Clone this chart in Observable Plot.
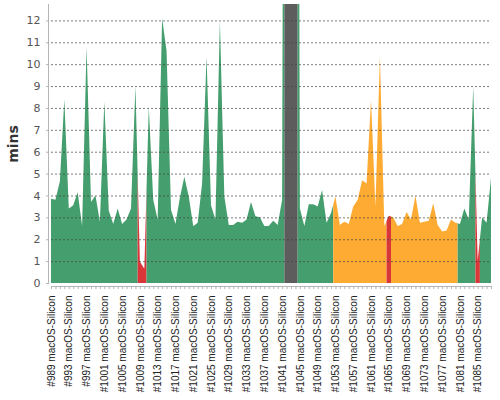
<!DOCTYPE html>
<html><head><meta charset="utf-8">
<script src="https://cdn.jsdelivr.net/npm/d3@7"></script>
<script src="https://cdn.jsdelivr.net/npm/@observablehq/plot@0.6"></script>
<style>body{margin:0;background:#fff} svg{display:block}</style>
</head><body><div id="chart"></div>
<script>
const builds = [
  989, 990, 991, 992, 993, 994, 995, 996, 997, 998,
  999, 1000, 1001, 1002, 1003, 1004, 1005, 1006, 1007, 1008,
  1009, 1010, 1011, 1012, 1013, 1014, 1015, 1016, 1017, 1018,
  1019, 1020, 1021, 1022, 1023, 1024, 1025, 1026, 1027, 1028,
  1029, 1030, 1031, 1032, 1033, 1034, 1035, 1036, 1037, 1038,
  1039, 1040, 1041, 1042, 1043, 1044, 1045, 1046, 1047, 1048,
  1049, 1050, 1051, 1052, 1053, 1054, 1055, 1056, 1057, 1058,
  1059, 1060, 1061, 1062, 1063, 1064, 1065, 1066, 1067, 1068,
  1069, 1070, 1071, 1072, 1073, 1074, 1075, 1076, 1077, 1078,
  1079, 1080, 1081, 1082, 1083, 1084, 1085, 1086, 1087, 1088
];
const durations = [
  3.85, 3.8, 4.65, 8.4, 3.4, 3.55, 4.15, 2.6, 10.8, 3.7,
  4.0, 2.8, 8.3, 3.3, 2.7, 3.4, 2.7, 2.9, 3.4, 9.0,
  0.97, 0.65, 8.05, 3.8, 2.9, 12.1, 10.6, 3.35, 2.7, 3.9,
  4.85, 3.95, 2.6, 2.75, 4.55, 10.35, 3.55, 2.9, 12.0, 3.95,
  2.65, 2.65, 2.8, 2.75, 2.9, 3.7, 3.05, 3.0, 2.6, 2.6,
  2.85, 2.65, 3.8, 80, 80, 80, 3.4, 2.6, 3.6, 3.6,
  3.5, 4.25, 2.75, 3.2, 3.95, 2.65, 2.8, 2.7, 3.5, 3.8,
  4.7, 4.55, 8.35, 3.5, 10.35, 2.6, 3.07, 3.0, 2.6, 2.7,
  3.25, 2.9, 4.0, 2.75, 2.8, 2.85, 3.65, 2.65, 2.35, 2.4,
  2.9, 2.75, 2.7, 3.4, 2.9, 9.0, 1.0, 3.0, 2.75, 4.8
];
const statuses = (
  "SSSSSSSSSS" +
  "SSSSSSSSSS" +
  "FFSSSSSSSS" +
  "SSSSSSSSSS" +
  "SSSSSSSSSS" +
  "SSSAAASSSS" +
  "SSSSUUUUUU" +
  "UUUUUUFUUU" +
  "UUUUUUUUUU" +
  "UUSSSSFSSS").split("");
const statusNames = {S: "success", F: "failure", U: "unstable", A: "aborted"};
const statusOrder = ["success", "failure", "unstable", "aborted"];
const statusColors = ["#459e6d", "#d9363a", "#fdab32", "#5d5d5d"];
const yTicks = [0, 1, 2, 3, 4, 5, 6, 7, 8, 9, 10, 11, 12];
const labelBuilds = builds.filter((b, i) => i % 4 === 0);
const labelSuffix = " macOS-Silicon";
const yLabel = ["mins"];

// Jenkins-style rendering: each build owns the span between the midpoints to its
// neighbours, coloured by its result; contiguous runs of one result form one area.
const pts = [];
let run = -1;
builds.forEach((b, i) => {
  const st = statusNames[statuses[i]];
  if (i === 0 || statuses[i] !== statuses[i - 1]) {
    run++;
    if (i > 0) pts.push({run, status: st, x: (builds[i - 1] + b) / 2, y: (durations[i - 1] + durations[i]) / 2});
  }
  pts.push({run, status: st, x: b, y: durations[i]});
  if (i < builds.length - 1) pts.push({run, status: st, x: (b + builds[i + 1]) / 2, y: (durations[i] + durations[i + 1]) / 2});
});

const chart = Plot.plot({
  width: 500, height: 400,
  marginLeft: 51, marginRight: 9, marginTop: 4, marginBottom: 117,
  x: {type: "linear", domain: [builds[0], builds[builds.length - 1]]},
  y: {domain: [0, 12.75]},
  color: {domain: statusOrder, range: statusColors},
  style: {fontFamily: "DejaVu Sans", background: "white"},
  marks: [
    Plot.area(pts, {x1: "x", y1: 0, y2: "y", z: "run", fill: "status", clip: true}),
    Plot.gridY(yTicks.slice(1), {stroke: "#444", strokeOpacity: 0.7, strokeDasharray: "2,2"}),
    Plot.frame({anchor: "left", dx: -3, stroke: "#b5b5b5"}),
    Plot.frame({anchor: "bottom", dy: 3, stroke: "#b5b5b5"}),
    Plot.axisY(yTicks, {dx: -3, tickSize: 2, tickPadding: 6, fontSize: 11, fill: "#555", stroke: "#b5b5b5", label: null}),
    Plot.axisX(builds, {dy: 3, tickSize: 3, tickFormat: () => "", stroke: "#b5b5b5", label: null}),
    Plot.axisX(labelBuilds, {tickSize: 0, tickPadding: 12, tickRotate: -90, tickFormat: d => `#${d}${labelSuffix}`,
      fontFamily: "Liberation Sans", fontSize: 10, fill: "#222", label: null}),
    Plot.text(yLabel, {frameAnchor: "left", text: d => d, rotate: -90, dx: -38, textAnchor: "middle",
      fontSize: 14, fontWeight: "bold", fill: "#333"})
  ]
});
document.getElementById("chart").append(chart);
</script>
</body></html>
